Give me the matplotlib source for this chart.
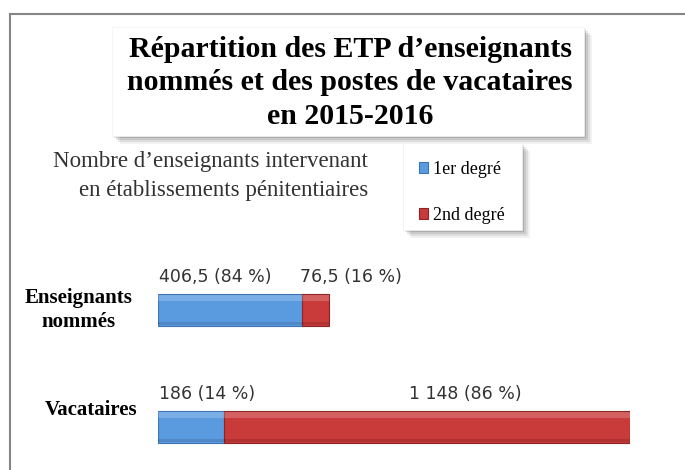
import matplotlib
matplotlib.use("Agg")
import matplotlib.pyplot as plt
from matplotlib.patches import Rectangle
import numpy as np

categories = ["Enseignants\nnommés", "Vacataires"]
premier_degre = [406.5, 186]
second_degre = [76.5, 1148]
labels_1er = ["406,5 (84 %)", "186 (14 %)"]
labels_2nd = ["76,5 (16 %)", "1 148 (86 %)"]
series_names = ["1er degré", "2nd degré"]

title = "Répartition des ETP d’enseignants\nnommés et des postes de vacataires\nen 2015-2016"
subtitle = "Nombre d’enseignants intervenant\nen établissements pénitentiaires"

BLUE = "#5a9be0"
RED = "#c93a3a"
SERIF = ["Liberation Serif", "DejaVu Serif"]

W, H = 685, 470
fig = plt.figure(figsize=(W / 100, H / 100), dpi=100)
fig.patch.set_facecolor("white")

def fx(px):
    return px / W

def fy(py):
    return 1 - py / H

# outer frame (left and top lines)
fig.add_artist(plt.Line2D([fx(9.5), fx(9.5)], [fy(14), 0], transform=fig.transFigure,
                          color="#858585", lw=1.5))
fig.add_artist(plt.Line2D([fx(9.5), 1], [fy(14), fy(14)], transform=fig.transFigure,
                          color="#858585", lw=1.5))

def shadow_box(x0, y0, x1, y1):
    for i, a in enumerate([0.10, 0.14, 0.18, 0.22]):
        off = 8 - i * 2
        fig.add_artist(Rectangle((fx(x0 + off), fy(y1 + off)), fx(x1 - x0), (y1 - y0) / H,
                                 transform=fig.transFigure, facecolor="black", alpha=a * 0.55,
                                 edgecolor="none", zorder=1))
    fig.add_artist(Rectangle((fx(x0), fy(y1)), fx(x1 - x0), (y1 - y0) / H,
                             transform=fig.transFigure, facecolor="white",
                             edgecolor="#f0f0f0", lw=0.5, zorder=2))

# title box
shadow_box(112, 27, 584, 136)
fig.text(fx(350), fy(83), title, ha="center", va="center", fontsize=21.5,
         fontweight="bold", family=SERIF, linespacing=1.3, zorder=3)

# subtitle
fig.text(fx(368), fy(176), subtitle, ha="right", va="center", fontsize=16.5,
         family=SERIF, color="#333333", linespacing=1.45, zorder=3)

# legend box
shadow_box(403, 143, 522, 230)

# bars axes
ax = fig.add_axes([fx(158), fy(470), fx(630 - 158), (470 - 250) / H])
ax.set_xlim(0, premier_degre[1] + second_degre[1])
y = np.arange(len(categories))
bar_h = 0.27
ax.set_ylim(1 + 43 / 117, -60 / 117)
ax.axis("off")

b1 = ax.barh(y, premier_degre, height=bar_h, color=BLUE, edgecolor="#3f74b4", lw=0.8,
             label=series_names[0], zorder=3)
b2 = ax.barh(y, second_degre, left=premier_degre, height=bar_h, color=RED,
             edgecolor="#8e2424", lw=0.8, label=series_names[1], zorder=3)
# bevel highlight / shade
ax.barh(y - bar_h * 0.37, premier_degre, height=bar_h * 0.2, color="white", alpha=0.2,
        lw=0, zorder=4)
ax.barh(y - bar_h * 0.37, second_degre, left=premier_degre, height=bar_h * 0.2,
        color="white", alpha=0.2, lw=0, zorder=4)
ax.barh(y + bar_h * 0.43, np.add(premier_degre, second_degre), height=bar_h * 0.12,
        color="black", alpha=0.12, lw=0, zorder=4)

# value labels above bars
lab_y = y - bar_h / 2 - 0.07
lab_kw = dict(va="bottom", fontsize=12.5, color="#333333", clip_on=False)
ax.text(premier_degre[0] * 0.01, lab_y[0], labels_1er[0], ha="left", **lab_kw)
ax.text(premier_degre[0] - 5, lab_y[0], labels_2nd[0], ha="left", **lab_kw)
ax.text(premier_degre[1] * 0.02, lab_y[1], labels_1er[1], ha="left", **lab_kw)
ax.text(premier_degre[1] + second_degre[1] * 0.595, lab_y[1], labels_2nd[1], ha="center",
        **lab_kw)

# category labels
ax.annotate(categories[0], xy=(0, y[0]), xytext=(-57.5, 0), textcoords="offset points",
            ha="center", va="center", fontsize=15, fontweight="bold", family=SERIF,
            linespacing=1.25, annotation_clip=False)
ax.annotate(categories[1], xy=(0, y[1]), xytext=(-15, 12), textcoords="offset points",
            ha="right", va="center", fontsize=15, fontweight="bold", family=SERIF,
            annotation_clip=False)

# legend
leg = fig.legend(handles=[b1, b2], labels=series_names, loc="upper left",
                 bbox_to_anchor=(fx(410), fy(152)), frameon=False, borderpad=0,
                 prop={"family": SERIF, "size": 13}, handlelength=0.5, handleheight=0.5,
                 handletextpad=0.3, labelspacing=1.6)
leg.set_zorder(5)

fig.savefig("out.png", dpi=100, facecolor="white")
